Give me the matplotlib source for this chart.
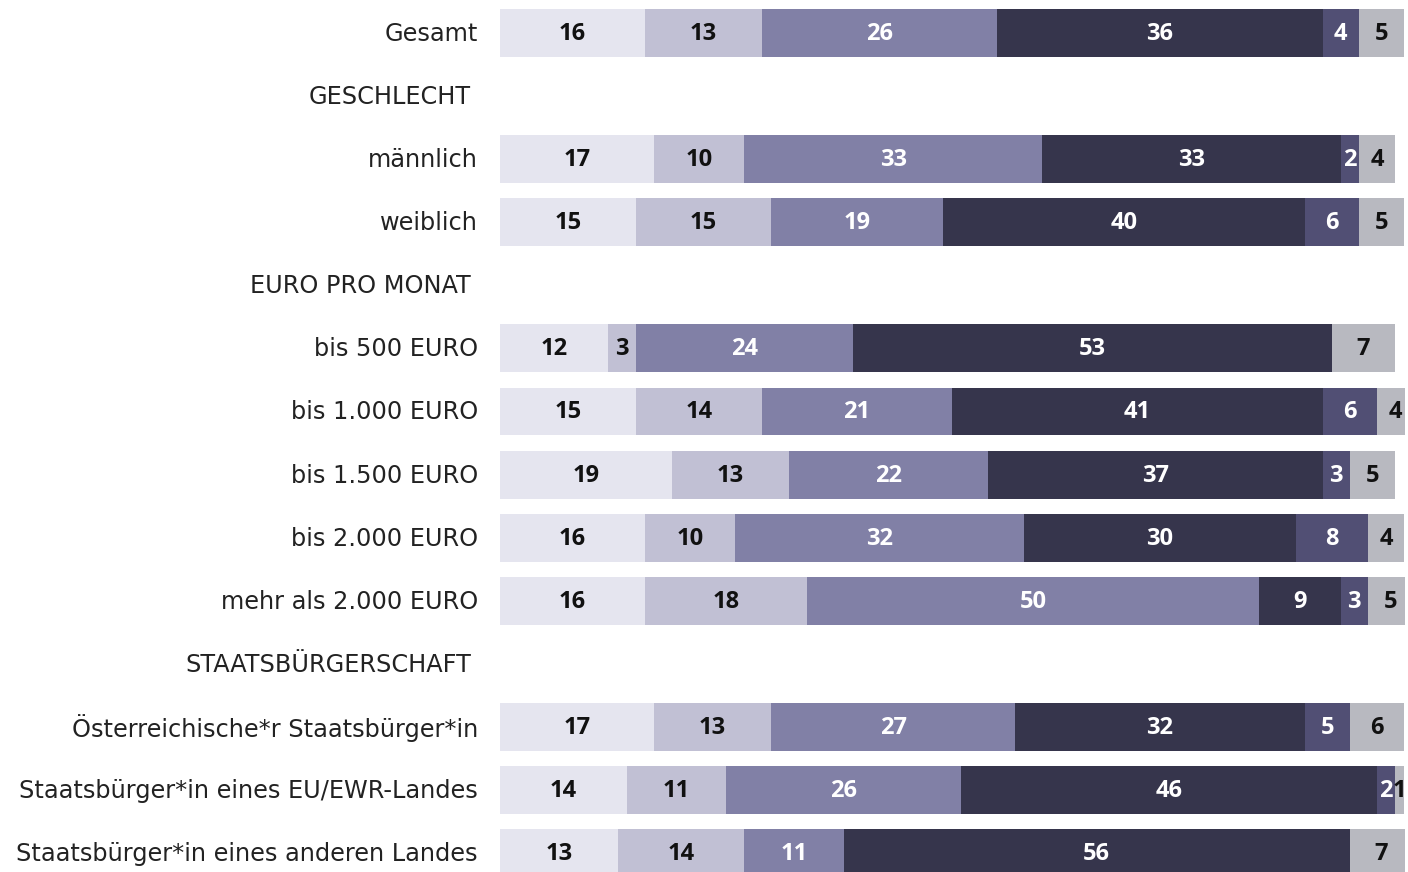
import matplotlib
matplotlib.use("Agg")
import matplotlib.pyplot as plt

rows = ["Gesamt", "GESCHLECHT", "männlich", "weiblich", "EURO PRO MONAT",
        "bis 500 EURO", "bis 1.000 EURO", "bis 1.500 EURO", "bis 2.000 EURO",
        "mehr als 2.000 EURO", "STAATSBÜRGERSCHAFT",
        "Österreichische*r Staatsbürger*in",
        "Staatsbürger*in eines EU/EWR-Landes",
        "Staatsbürger*in eines anderen Landes"]
headers = ["GESCHLECHT", "EURO PRO MONAT", "STAATSBÜRGERSCHAFT"]
bar_rows = [r for r in rows if r not in headers]

s1 = [16, 17, 15, 12, 15, 19, 16, 16, 17, 14, 13]
s2 = [13, 10, 15, 3, 14, 13, 10, 18, 13, 11, 14]
s3 = [26, 33, 19, 24, 21, 22, 32, 50, 27, 26, 11]
s4 = [36, 33, 40, 53, 41, 37, 30, 9, 32, 46, 56]
s5 = [4, 2, 6, 0, 6, 3, 8, 3, 5, 2, 0]
s6 = [5, 4, 5, 7, 4, 5, 4, 5, 6, 1, 7]
series = [s1, s2, s3, s4, s5, s6]

colors = ["#e5e5ef", "#c1c0d4", "#8180a6", "#36354c", "#514f74", "#b8b9c0"]
txt_colors = ["#111111", "#111111", "#ffffff", "#ffffff", "#ffffff", "#111111"]

W, H = 1408, 872
fig = plt.figure(figsize=(W / 100, H / 100), dpi=100)
ax = fig.add_axes([500 / W, 0, 905 / W, 1])
ax.set_xlim(0, 905 / 9.04)
ax.set_ylim(13.30, -0.523)
ax.axis("off")

ypos = [rows.index(r) for r in bar_rows]
left = [0.0] * len(bar_rows)
for vals, c, tc in zip(series, colors, txt_colors):
    ax.barh(ypos, vals, left=left, height=0.76, color=c, edgecolor="none")
    for y, l, v in zip(ypos, left, vals):
        if v > 0:
            ax.annotate(str(v), xy=(l + v / 2, y), xytext=(0, -1),
                        textcoords="offset pixels", ha="center", va="center",
                        fontsize=17, fontweight="bold", color=tc,
                        family=["Open Sans", "DejaVu Sans"])
    left = [a + b for a, b in zip(left, vals)]

for i, r in enumerate(rows):
    off = -29 if r in headers else -22
    ax.annotate(r, xy=(0, i), xycoords="data", xytext=(off, -1),
                textcoords="offset pixels", ha="right", va="center",
                fontsize=17.3, color="#222222", annotation_clip=False,
                family=["DejaVu Sans"])

fig.savefig("out.png", dpi=100)
